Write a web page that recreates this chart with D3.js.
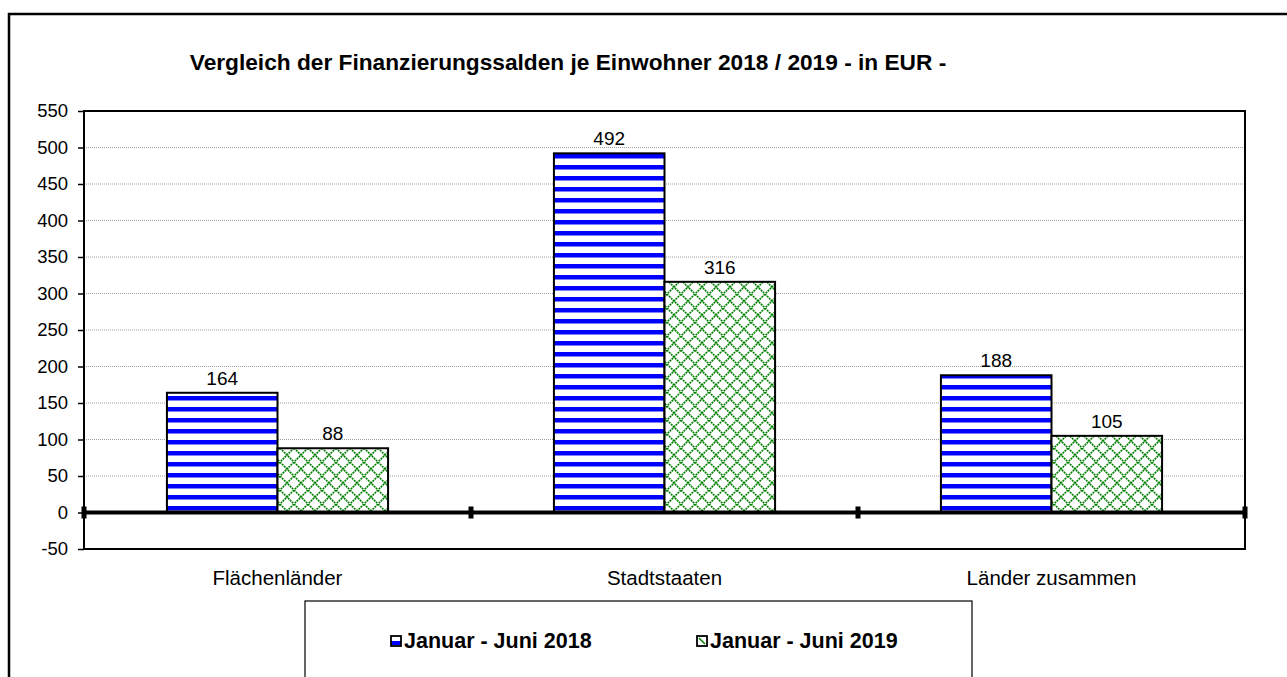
<!DOCTYPE html>
<html>
<head>
<meta charset="utf-8">
<script src="https://cdn.jsdelivr.net/npm/d3@7"></script>
<style>
  body { margin: 0; background: #fff; }
  svg { display: block; font-family: "Liberation Sans", Arial, sans-serif; }
</style>
</head>
<body>
<div id="chart"></div>
<script>
var categories = ['Flächenländer', 'Stadtstaaten', 'Länder zusammen']
var seriesNames = ['Januar - Juni 2018', 'Januar - Juni 2019']
var values2018 = [164, 492, 188]
var values2019 = [88, 316, 105]
var yTicks = [-50, 0, 50, 100, 150, 200, 250, 300, 350, 400, 450, 500, 550]
var titleText = 'Vergleich der Finanzierungssalden je Einwohner 2018 / 2019 - in EUR -'

var W = 1287, H = 677
var plot = {left: 84, right: 1245, top: 111, bottom: 549}

var svg = d3.select('#chart').append('svg')
  .attr('width', W).attr('height', H)

// patterns
var defs = svg.append('defs')
var stripes = defs.append('pattern')
  .attr('id', 'stripes').attr('patternUnits', 'userSpaceOnUse')
  .attr('width', 11).attr('height', 11).attr('y', 513)
stripes.append('rect').attr('width', 11).attr('height', 11).attr('fill', '#fff')
stripes.append('rect').attr('y', 4).attr('width', 11).attr('height', 4.5).attr('fill', '#0000ff')

var hatch = defs.append('pattern')
  .attr('id', 'hatch').attr('patternUnits', 'userSpaceOnUse')
  .attr('width', 14).attr('height', 14)
hatch.append('rect').attr('width', 14).attr('height', 14).attr('fill', '#fff')
hatch.append('path')
  .attr('d', 'M0,0 L14,14 M14,0 L0,14')
  .attr('stroke', '#008000').attr('stroke-width', 1.6)
  .attr('stroke-dasharray', '2,0.8')

// outer frame (runs off the right and bottom edge)
svg.append('rect')
  .attr('x', 9).attr('y', 14).attr('width', W + 20).attr('height', H + 20)
  .attr('fill', 'none').attr('stroke', '#000').attr('stroke-width', 2.5)

// title
svg.append('text')
  .attr('x', 568).attr('y', 70)
  .attr('text-anchor', 'middle')
  .attr('font-size', 22.7).attr('font-weight', 'bold')
  .text(titleText)

// scales
var y = d3.scaleLinear().domain([-50, 550]).range([plot.bottom, plot.top])
var x0 = d3.scaleBand().domain(categories).range([plot.left, plot.right]).padding(0)
var x1 = d3.scaleBand().domain(seriesNames).range([0, x0.bandwidth()])
  .paddingInner(0).paddingOuter(0.75)

// gridlines
svg.append('g').selectAll('line')
  .data(yTicks.filter(function(d) { return d > 0 && d < 550 }))
  .join('line')
    .attr('x1', plot.left).attr('x2', plot.right)
    .attr('y1', function(d) { return y(d) }).attr('y2', function(d) { return y(d) })
    .attr('stroke', '#a0a0a0').attr('stroke-width', 1)
    .attr('stroke-dasharray', '1,1')

// y axis (plain hyphen for negatives, like the original)
var yAxis = svg.append('g')
  .attr('transform', 'translate(' + plot.left + ',0)')
  .call(d3.axisLeft(y).tickValues(yTicks).tickSize(6).tickPadding(10)
    .tickFormat(function(d) { return String(d) }))
yAxis.select('.domain').remove()
yAxis.selectAll('.tick line').attr('stroke', '#000').attr('stroke-width', 1.5)
yAxis.selectAll('.tick text')
  .attr('font-size', 18.5).attr('font-family', '"Liberation Sans", Arial, sans-serif')
  .attr('fill', '#000')

// bars
var rows = categories.map(function(c, i) {
  return {cat: c, vals: [values2018[i], values2019[i]]}
})
var fills = ['url(#stripes)', 'url(#hatch)']
var groups = svg.append('g').selectAll('g')
  .data(rows).join('g')
    .attr('transform', function(d) { return 'translate(' + x0(d.cat) + ',0)' })

groups.selectAll('rect')
  .data(function(d) { return d.vals.map(function(v, j) { return {s: seriesNames[j], v: v, j: j} }) })
  .join('rect')
    .attr('x', function(d) { return x1(d.s) })
    .attr('width', x1.bandwidth())
    .attr('y', function(d) { return y(d.v) })
    .attr('height', function(d) { return y(0) - y(d.v) })
    .attr('fill', function(d) { return fills[d.j] })
    .attr('stroke', '#000').attr('stroke-width', 2)

groups.selectAll('text')
  .data(function(d) { return d.vals.map(function(v, j) { return {s: seriesNames[j], v: v} }) })
  .join('text')
    .attr('x', function(d) { return x1(d.s) + x1.bandwidth() / 2 })
    .attr('y', function(d) { return y(d.v) - 8 })
    .attr('text-anchor', 'middle')
    .attr('font-size', 19)
    .text(function(d) { return d.v })

// plot frame
svg.append('rect')
  .attr('x', plot.left).attr('y', plot.top)
  .attr('width', plot.right - plot.left).attr('height', plot.bottom - plot.top)
  .attr('fill', 'none').attr('stroke', '#000').attr('stroke-width', 2)

// zero line with category tick marks
svg.append('line')
  .attr('x1', plot.left).attr('x2', plot.right)
  .attr('y1', y(0)).attr('y2', y(0))
  .attr('stroke', '#000').attr('stroke-width', 4)
var bounds = categories.map(function(c) { return x0(c) }).concat([plot.right])
svg.append('g').selectAll('rect')
  .data(bounds).join('rect')
    .attr('x', function(d) { return d - 2.5 }).attr('width', 5)
    .attr('y', y(0) - 6).attr('height', 12)
    .attr('fill', '#000')

// category labels
svg.append('g').selectAll('text')
  .data(categories).join('text')
    .attr('x', function(d) { return x0(d) + x0.bandwidth() / 2 })
    .attr('y', 585)
    .attr('text-anchor', 'middle')
    .attr('font-size', 20.5)
    .text(function(d) { return d })

// legend
var legend = svg.append('g')
legend.append('rect')
  .attr('x', 305).attr('y', 601).attr('width', 667).attr('height', 120)
  .attr('fill', '#fff').attr('stroke', '#000').attr('stroke-width', 1.2)
var legendX = [391, 697]
seriesNames.forEach(function(name, i) {
  var g = legend.append('g').attr('transform', 'translate(' + legendX[i] + ',636)')
  g.append('rect').attr('width', 10).attr('height', 10).attr('fill', '#fff')
  if (i === 0) {
    g.append('rect').attr('y', 5).attr('width', 10).attr('height', 4).attr('fill', '#0000ff')
  } else {
    g.append('line').attr('x1', 2).attr('y1', 2).attr('x2', 8).attr('y2', 8)
      .attr('stroke', '#008000').attr('stroke-width', 1.5)
  }
  g.append('rect').attr('width', 10).attr('height', 10)
    .attr('fill', 'none').attr('stroke', '#000').attr('stroke-width', 1.8)
  g.append('text').attr('x', 13).attr('y', 12)
    .attr('font-size', 21.5).attr('font-weight', 'bold')
    .text(name)
})
</script>
</body>
</html>
